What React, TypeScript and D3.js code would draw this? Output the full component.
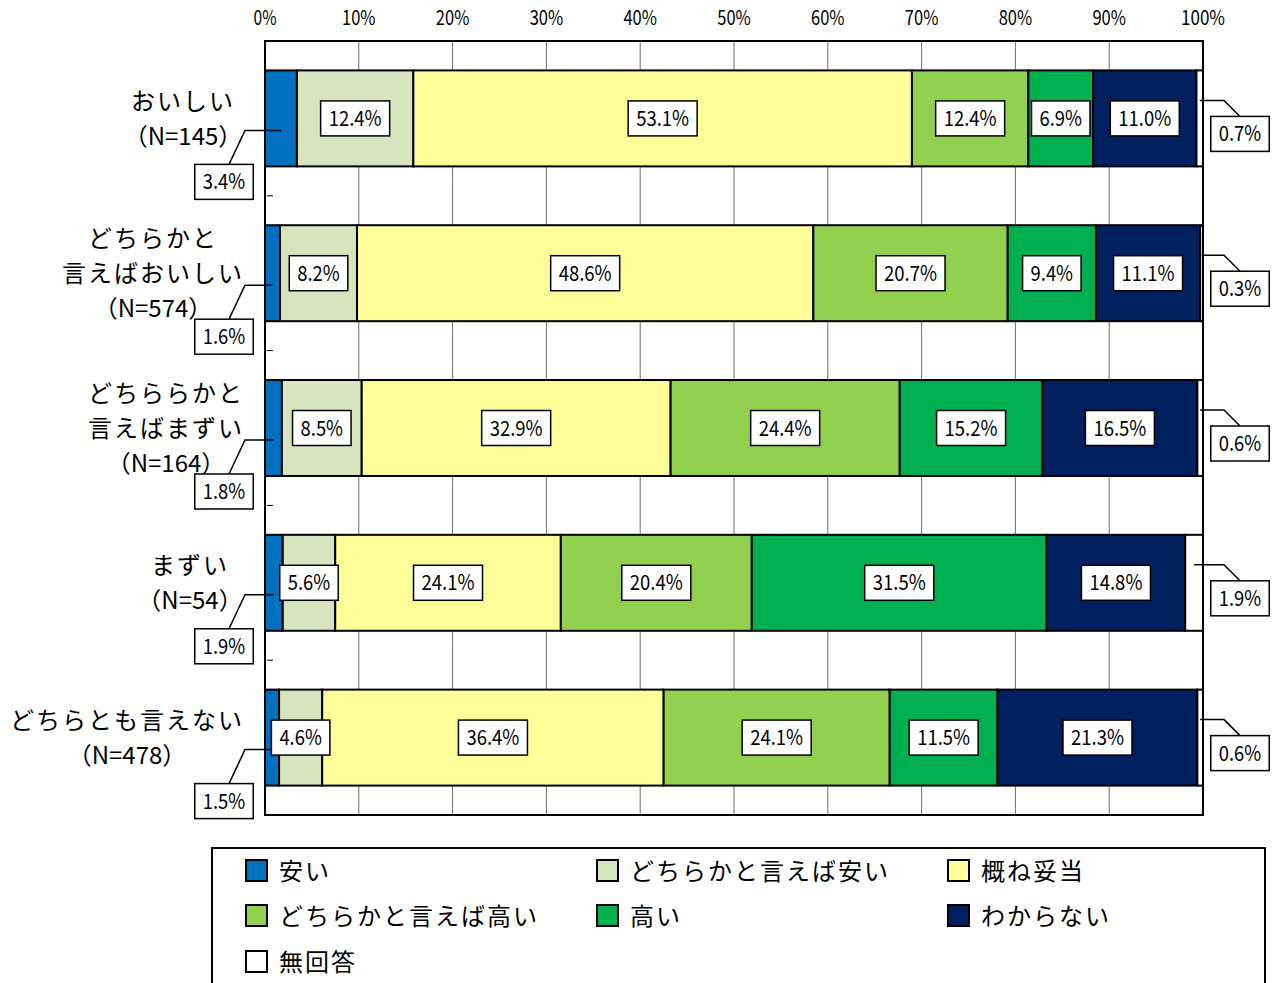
import React from 'react';
import * as d3 from 'd3';

// ---------- data ----------
const categoryLines: string[][] = [
  ['おいしい', '（N=145）'],
  ['どちらかと', '言えばおいしい', '（N=574）'],
  ['どちららかと', '言えばまずい', '（N=164）'],
  ['まずい', '（N=54）'],
  ['どちらとも言えない', '（N=478）'],
];
const categoryKeys = ['c1', 'c2', 'c3', 'c4', 'c5'];

const seriesNames = ['安い', 'どちらかと言えば安い', '概ね妥当', 'どちらかと言えば高い', '高い', 'わからない', '無回答'];
const seriesColors = ['#0070C0', '#D7E4BD', '#FFFF99', '#92D050', '#00B050', '#002060', '#FFFFFF'];

const yasui = [3.4, 1.6, 1.8, 1.9, 1.5];
const yasuiLean = [12.4, 8.2, 8.5, 5.6, 4.6];
const dato = [53.1, 48.6, 32.9, 24.1, 36.4];
const takaiLean = [12.4, 20.7, 24.4, 20.4, 24.1];
const takai = [6.9, 9.4, 15.2, 31.5, 11.5];
const wakaranai = [11.0, 11.1, 16.5, 14.8, 21.3];
const mukaito = [0.7, 0.3, 0.6, 1.9, 0.6];

const seriesValues = [yasui, yasuiLean, dato, takaiLean, takai, wakaranai, mukaito];
const tickValues = [0, 10, 20, 30, 40, 50, 60, 70, 80, 90, 100];

// ---------- layout ----------
const W = 1279;
const H = 983;
const PL = 265, PR = 1203, PT = 41, PB = 815;
const FONT = '"Noto Sans CJK JP", "Noto Sans", sans-serif';

const numWidth = (s: string) => {
  let w = 0;
  for (const ch of s) {
    if (/[0-9]/.test(ch)) w += 10.5;
    else if (ch === '.') w += 9;
    else if (ch === '%') w += 12.5;
    else w += 10;
  }
  return w;
};

const textWidthJ = (s: string) => {
  let w = 0;
  for (const ch of s) {
    w += ch.charCodeAt(0) > 255 ? 26 : 14;
  }
  return w;
};

const fmt = (v: number) => `${v.toFixed(1)}%`;

function NumLabel({ cx, cy, text }: { cx: number; cy: number; text: string }) {
  const tw = numWidth(text);
  const bw = tw + 16;
  const bh = 35;
  return (
    <g>
      <rect x={cx - bw / 2} y={cy - bh / 2} width={bw} height={bh} fill="#fff" stroke="#000" strokeWidth={1.5} />
      <text
        x={cx}
        y={cy + 7.5}
        textAnchor="middle"
        fontFamily={FONT}
        fontSize={21}
        textLength={tw}
        lengthAdjust="spacingAndGlyphs"
        fill="#000"
      >
        {text}
      </text>
    </g>
  );
}

export default function App() {
  const rows = categoryKeys.map((k, i) => {
    const o: any = { key: k };
    seriesNames.forEach((s, j) => (o[s] = seriesValues[j][i]));
    return o;
  });
  const stacked = d3.stack<any>().keys(seriesNames).offset(d3.stackOffsetExpand)(rows);

  const x = d3.scaleLinear().domain([0, 1]).range([PL, PR]);
  const xt = d3.scaleLinear().domain([0, 100]).range([PL, PR]);
  const y = d3.scaleBand<string>().domain(categoryKeys).range([PT, PB]).paddingInner(0.38).paddingOuter(0.19);
  const step = y.step();

  const legendCols = [246, 597, 948];
  const legendRows = [871, 916, 962];

  return (
    <svg width={W} height={H} style={{ position: 'absolute', left: 0, top: 0, background: '#fff' }}>
      <rect x={0} y={0} width={W} height={H} fill="#fff" />
      {/* gridlines */}
      {tickValues.slice(1, -1).map((t) => (
        <line key={t} x1={xt(t)} x2={xt(t)} y1={PT} y2={PB} stroke="#6e6e6e" strokeWidth={1} />
      ))}
      {/* tick labels */}
      {tickValues.map((t) => {
        const s = `${t}%`;
        return (
          <text
            key={t}
            x={xt(t)}
            y={25}
            textAnchor="middle"
            fontFamily={FONT}
            fontSize={20}
            textLength={numWidth(s)}
            lengthAdjust="spacingAndGlyphs"
          >
            {s}
          </text>
        );
      })}
      {/* left axis small ticks */}
      {categoryKeys.slice(1).map((k) => {
        const yy = (y(k) as number) - (step - y.bandwidth()) / 2;
        return <line key={k} x1={PL + 2} x2={PL + 8} y1={yy} y2={yy} stroke="#000" strokeWidth={1} />;
      })}
      {/* bars */}
      {stacked.map((ser, j) => (
        <g key={ser.key}>
          {ser.map((d, i) => (
            <rect
              key={i}
              x={x(d[0])}
              y={y(categoryKeys[i])}
              width={Math.max(0, x(d[1]) - x(d[0]))}
              height={y.bandwidth()}
              fill={seriesColors[j]}
              stroke="#000"
              strokeWidth={2}
            />
          ))}
        </g>
      ))}
      {/* plot frame */}
      <rect x={PL} y={PT} width={PR - PL} height={PB - PT} fill="none" stroke="#000" strokeWidth={2} />
      {/* category labels */}
      {categoryLines.map((lines, i) => {
        const cy = (y(categoryKeys[i]) as number) + y.bandwidth() / 2;
        const maxW = d3.max(lines, (l) => textWidthJ(l)) as number;
        const cx = 244 - maxW / 2;
        const lh = 35;
        const y0 = cy - ((lines.length - 1) * lh) / 2;
        return (
          <g key={i}>
            {lines.map((l, k) => (
              <text
                key={k}
                x={cx}
                y={y0 + k * lh + 9}
                textAnchor="middle"
                fontFamily={FONT}
                fontSize={24}
                letterSpacing={l.startsWith('（') ? 0 : 2}
                fill="#000"
              >
                {l}
              </text>
            ))}
          </g>
        );
      })}
      {/* value labels */}
      {stacked.map((ser, j) =>
        ser.map((d, i) => {
          const v = seriesValues[j][i];
          const top = y(categoryKeys[i]) as number;
          const bw = y.bandwidth();
          const cy = top + bw / 2;
          const segC = (x(d[0]) + x(d[1])) / 2;
          if (j === 0) {
            const ly = cy + 12;
            const boxTop = top + bw - 2;
            const bcx = 224;
            return (
              <g key={`${j}-${i}`}>
                <polyline
                  points={`${segC},${ly} 245,${ly} 229,${boxTop}`}
                  fill="none"
                  stroke="#000"
                  strokeWidth={1.5}
                />
                <NumLabel cx={bcx} cy={boxTop + 17.5} text={fmt(v)} />
              </g>
            );
          }
          if (j === seriesNames.length - 1) {
            const ly = top + 30;
            const boxTop = top + 46;
            const bcx = 1240;
            return (
              <g key={`${j}-${i}`}>
                <polyline
                  points={`${segC},${ly} 1224,${ly} 1240,${boxTop}`}
                  fill="none"
                  stroke="#000"
                  strokeWidth={1.5}
                />
                <NumLabel cx={bcx} cy={boxTop + 17.5} text={fmt(v)} />
              </g>
            );
          }
          return <NumLabel key={`${j}-${i}`} cx={segC} cy={cy} text={fmt(v)} />;
        })
      )}
      {/* legend */}
      <rect x={212} y={848} width={1053} height={150} fill="#fff" stroke="#000" strokeWidth={2} />
      {seriesNames.map((s, j) => {
        const col = j % 3;
        const row = Math.floor(j / 3);
        const lx = legendCols[col];
        const ly = legendRows[row];
        return (
          <g key={s}>
            <rect x={lx} y={ly - 11} width={21} height={21} fill={seriesColors[j]} stroke="#000" strokeWidth={2} />
            <text x={lx + 33} y={ly + 9} fontFamily={FONT} fontSize={24} letterSpacing={2} fill="#000">
              {s}
            </text>
          </g>
        );
      })}
    </svg>
  );
}
